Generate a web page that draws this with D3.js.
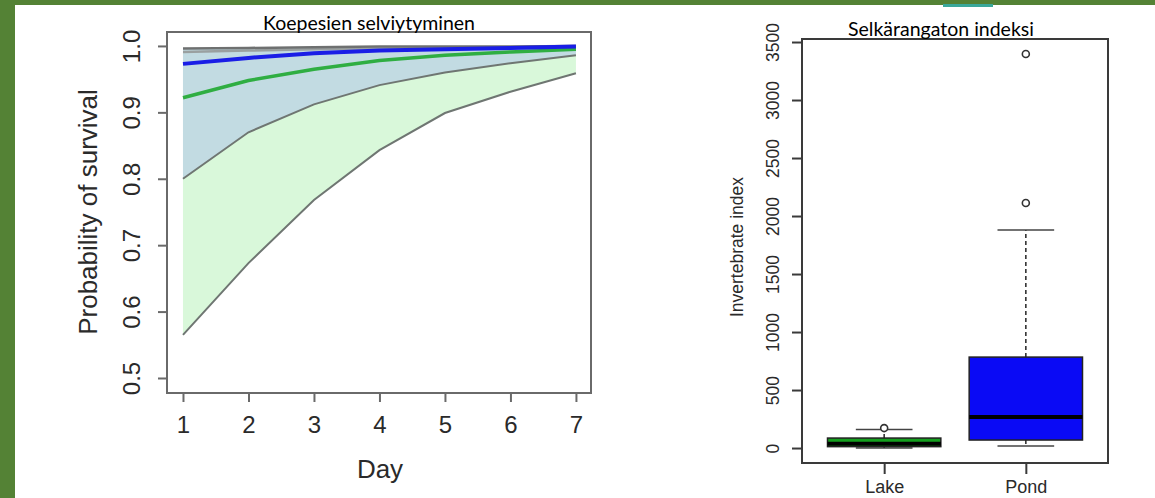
<!DOCTYPE html>
<html><head><meta charset="utf-8">
<script src="https://cdn.jsdelivr.net/npm/d3@7"></script>
<style>body{margin:0;background:#fff}svg{display:block}</style>
</head><body>
<svg id="c" width="1155" height="498"></svg>
<script>
// ---- Survival chart data ----
const days = [1, 2, 3, 4, 5, 6, 7];
const survivalTicks = [0.5, 0.6, 0.7, 0.8, 0.9, 1.0];
const greenMean  = [0.922, 0.948, 0.965, 0.978, 0.986, 0.991, 0.995];
const greenLower = [0.565, 0.673, 0.768, 0.843, 0.899, 0.931, 0.959];
const greenUpper = [0.991, 0.993, 0.995, 0.996, 0.997, 0.998, 0.998];
const blueMean   = [0.973, 0.982, 0.989, 0.993, 0.995, 0.997, 0.999];
const blueLower  = [0.800, 0.870, 0.912, 0.941, 0.960, 0.974, 0.986];
const blueUpper  = [0.996, 0.997, 0.998, 0.999, 0.999, 0.999, 1.000];

// ---- Boxplot data ----
const groups       = ["Lake", "Pond"];
const whiskerLow   = [0, 17];
const quart1       = [12, 69];
const medians      = [38, 267];
const quart3       = [86, 784];
const whiskerHigh  = [160, 1879];
const outliers     = [[172], [2112, 3397]];
const indexTicks   = [0, 500, 1000, 1500, 2000, 2500, 3000, 3500];

const svg = d3.select("#c");
svg.append("rect").attr("width",1155).attr("height",498).attr("fill","#548235");
svg.append("rect").attr("x",15).attr("y",5).attr("width",1140).attr("height",493).attr("fill","#ffffff");
svg.append("rect").attr("x",943).attr("y",4).attr("width",50).attr("height",3).attr("fill","#3aa89a");

const AF = "'Liberation Sans', Arial, sans-serif";
const TF = "Lato, 'Open Sans', sans-serif";

// ================= Left chart =================
const L = {l:167, r:591, t:32, b:393};
const x1 = d3.scaleLinear().domain([0.756, 7.23]).range([L.l, L.r]);
const y1 = d3.scaleLinear().domain([0.4774, 1.021]).range([L.b, L.t]);
const g1 = svg.append("g");

const band = (lo, hi) => d3.area().x((d,i)=>x1(days[i])).y0((d,i)=>y1(lo[i])).y1((d,i)=>y1(hi[i]))(days);
const line = (v) => d3.line().x((d,i)=>x1(days[i])).y((d,i)=>y1(v[i]))(days);

g1.append("path").attr("d", band(greenLower, greenUpper)).attr("fill","#d9f8da");
g1.append("path").attr("d", band(blueLower, blueUpper)).attr("fill","#c2dbe2");
[greenLower, blueLower].forEach(v=>g1.append("path").attr("d", line(v)).attr("fill","none").attr("stroke","#6f7672").attr("stroke-width",2));
g1.append("path").attr("d", line(greenUpper)).attr("fill","none").attr("stroke","#9aa0a0").attr("stroke-width",2.5);
g1.append("path").attr("d", line(blueUpper)).attr("fill","none").attr("stroke","#6e7070").attr("stroke-width",2.5);
g1.append("path").attr("d", line(greenMean)).attr("fill","none").attr("stroke","#2fae42").attr("stroke-width",3.5);
g1.append("path").attr("d", line(blueMean)).attr("fill","none").attr("stroke","#1a1ee6").attr("stroke-width",4);

g1.append("rect").attr("x",L.l).attr("y",L.t).attr("width",L.r-L.l).attr("height",L.b-L.t)
  .attr("fill","none").attr("stroke","#6a6a6a").attr("stroke-width",2);

const ax1 = g1.append("g").attr("transform",`translate(0,${L.b})`)
  .call(d3.axisBottom(x1).tickValues(days).tickSize(9).tickFormat(d3.format("d")));
ax1.select(".domain").remove();
ax1.selectAll("line").attr("stroke","#6a6a6a").attr("stroke-width",2);
ax1.selectAll("text").attr("dy",0).attr("y",40).attr("font-family",AF).attr("font-size",24).attr("fill","#2a2a2a");

const ay1 = g1.append("g").attr("transform",`translate(${L.l},0)`)
  .call(d3.axisLeft(y1).tickValues(survivalTicks).tickSize(9).tickFormat(d3.format(".1f")));
ay1.select(".domain").remove();
ay1.selectAll("line").attr("stroke","#6a6a6a").attr("stroke-width",2);
ay1.selectAll("text").attr("transform","rotate(-90)").attr("x",0).attr("y",-27).attr("dy",0)
  .attr("text-anchor","middle").attr("font-family",AF).attr("font-size",24).attr("fill","#2a2a2a");

g1.append("text").attr("x",380).attr("y",478).attr("text-anchor","middle")
  .attr("font-family",AF).attr("font-size",26).attr("fill","#2a2a2a").text("Day");
g1.append("text").attr("transform","translate(97,212) rotate(-90)").attr("text-anchor","middle")
  .attr("font-family",AF).attr("font-size",26).attr("fill","#2a2a2a").text("Probability of survival");
g1.append("text").attr("x",369).attr("y",30).attr("text-anchor","middle")
  .attr("font-family",TF).attr("font-size",19.5).attr("fill","#000").text("Koepesien selviytyminen");

// ================= Right chart =================
const R = {l:802, r:1108, t:39, b:463};
const x2 = d3.scaleLinear().domain([0.42, 2.58]).range([R.l, R.r]);
const y2 = d3.scaleLinear().domain([-129, 3526]).range([R.b, R.t]);
const g2 = svg.append("g");
const boxW = 0.8, capW = 0.4;
const fills = ["#14a01e", "#0a0af5"];

groups.forEach((name, i) => {
  const cx = i + 1;
  const gg = g2.append("g");
  gg.append("line").attr("x1",x2(cx)).attr("x2",x2(cx)).attr("y1",y2(quart3[i])).attr("y2",y2(whiskerHigh[i]))
    .attr("stroke","#333").attr("stroke-width",1.6).attr("stroke-dasharray","4,3");
  gg.append("line").attr("x1",x2(cx)).attr("x2",x2(cx)).attr("y1",y2(quart1[i])).attr("y2",y2(whiskerLow[i]))
    .attr("stroke","#333").attr("stroke-width",1.6).attr("stroke-dasharray","4,3");
  [whiskerHigh[i], whiskerLow[i]].forEach(v => gg.append("line")
    .attr("x1",x2(cx-capW/2)).attr("x2",x2(cx+capW/2)).attr("y1",y2(v)).attr("y2",y2(v))
    .attr("stroke","#444").attr("stroke-width",1.6));
  gg.append("rect").attr("x",x2(cx-boxW/2)).attr("width",x2(cx+boxW/2)-x2(cx-boxW/2))
    .attr("y",y2(quart3[i])).attr("height",y2(quart1[i])-y2(quart3[i]))
    .attr("fill",fills[i]).attr("stroke","#222").attr("stroke-width",1.5);
  gg.append("line").attr("x1",x2(cx-boxW/2)).attr("x2",x2(cx+boxW/2)).attr("y1",y2(medians[i])).attr("y2",y2(medians[i]))
    .attr("stroke","#000").attr("stroke-width",4);
  outliers[i].forEach(v => gg.append("circle").attr("cx",x2(cx)).attr("cy",y2(v)).attr("r",3.5)
    .attr("fill","#fff").attr("stroke","#333").attr("stroke-width",1.6));
});

g2.append("rect").attr("x",R.l).attr("y",R.t).attr("width",R.r-R.l).attr("height",R.b-R.t)
  .attr("fill","none").attr("stroke","#3a3a3a").attr("stroke-width",2);

const ax2 = g2.append("g").attr("transform",`translate(0,${R.b})`)
  .call(d3.axisBottom(x2).tickValues([1,2]).tickSize(11).tickFormat((d)=>groups[d-1]));
ax2.select(".domain").remove();
ax2.selectAll("line").attr("stroke","#3a3a3a").attr("stroke-width",2);
ax2.selectAll("text").attr("dy",0).attr("y",30).attr("font-family",AF).attr("font-size",18).attr("fill","#2a2a2a");

const ay2 = g2.append("g").attr("transform",`translate(${R.l},0)`)
  .call(d3.axisLeft(y2).tickValues(indexTicks).tickSize(10).tickFormat(d3.format("d")));
ay2.select(".domain").remove();
ay2.selectAll("line").attr("stroke","#3a3a3a").attr("stroke-width",2);
ay2.selectAll("text").attr("transform","rotate(-90)").attr("x",0).attr("y",-23).attr("dy",0)
  .attr("text-anchor","middle").attr("font-family",AF).attr("font-size",17.5).attr("fill","#2a2a2a");

g2.append("text").attr("transform","translate(743,247) rotate(-90)").attr("text-anchor","middle")
  .attr("font-family",AF).attr("font-size",17.5).attr("fill","#2a2a2a").text("Invertebrate index");
g2.append("text").attr("x",941).attr("y",36).attr("text-anchor","middle")
  .attr("font-family",TF).attr("font-size",19.5).attr("fill","#000").text("Selkärangaton indeksi");
</script>
</body></html>
